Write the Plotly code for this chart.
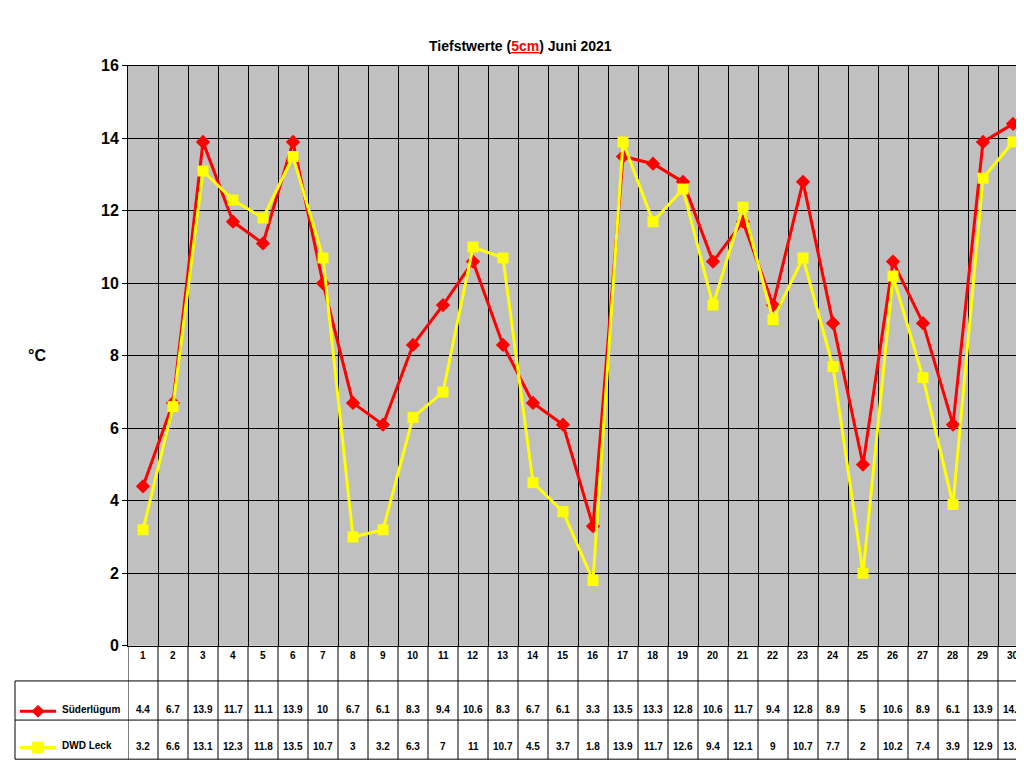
import plotly.graph_objects as go

days = list(range(1, 31))
suederluegum = [4.4, 6.7, 13.9, 11.7, 11.1, 13.9, 10, 6.7, 6.1, 8.3, 9.4, 10.6, 8.3, 6.7, 6.1,
                3.3, 13.5, 13.3, 12.8, 10.6, 11.7, 9.4, 12.8, 8.9, 5, 10.6, 8.9, 6.1, 13.9, 14.4]
dwd_leck = [3.2, 6.6, 13.1, 12.3, 11.8, 13.5, 10.7, 3, 3.2, 6.3, 7, 11, 10.7, 4.5, 3.7,
            1.8, 13.9, 11.7, 12.6, 9.4, 12.1, 9, 10.7, 7.7, 2, 10.2, 7.4, 3.9, 12.9, 13.9]
series_names = ["Süderlügum", "DWD Leck"]

W, H = 1024, 768
def py(p):  # pixel y -> paper
    return 1 - p / H
def px(p):
    return p / W

fig = go.Figure()
fig.add_trace(go.Scatter(x=days, y=suederluegum, mode="lines+markers", name=series_names[0],
                         line=dict(color="#FF0000", width=3),
                         marker=dict(symbol="diamond", size=11, color="#FF0000")))
fig.add_trace(go.Scatter(x=days, y=dwd_leck, mode="lines+markers", name=series_names[1],
                         line=dict(color="#FFFF00", width=3),
                         marker=dict(symbol="square", size=11, color="#FFFF00")))

shapes = []
ann = []
font = dict(family="Liberation Sans, Arial", size=10, color="black")
# table grid
rows = [644, 680, 720, 760]
for r in rows[1:]:
    shapes.append(dict(type="line", xref="paper", yref="paper", x0=px(7), x1=px(1020),
                       y0=py(r), y1=py(r), line=dict(color="black", width=1)))
for b in range(31):
    shapes.append(dict(type="line", xref="x", yref="paper", x0=b + 0.5, x1=b + 0.5,
                       y0=py(760), y1=py(644), line=dict(color="black", width=1)))
shapes.append(dict(type="line", xref="paper", yref="paper", x0=px(7), x1=px(7),
                   y0=py(760), y1=py(680), line=dict(color="black", width=1)))

for d in days:
    ann.append(dict(x=d, y=py(662), xref="x", yref="paper", text="<b>%d</b>" % d,
                    showarrow=False, font=font))
    ann.append(dict(x=d, y=py(717), xref="x", yref="paper", text="<b>%g</b>" % suederluegum[d - 1],
                    showarrow=False, font=font))
    ann.append(dict(x=d, y=py(755), xref="x", yref="paper", text="<b>%g</b>" % dwd_leck[d - 1],
                    showarrow=False, font=font))

# legend keys in table
def diamond(cx, cy, r):
    return "M %f %f L %f %f L %f %f L %f %f Z" % (px(cx), py(cy - r), px(cx + r), py(cy),
                                                  px(cx), py(cy + r), px(cx - r), py(cy))
def square(cx, cy, r):
    return "M %f %f L %f %f L %f %f L %f %f Z" % (px(cx - r), py(cy - r), px(cx + r), py(cy - r),
                                                  px(cx + r), py(cy + r), px(cx - r), py(cy + r))
for name, yy, color, path in [(series_names[0], 711, "#FF0000", diamond(30, 711, 6)),
                              (series_names[1], 748, "#FFFF00", square(30, 748, 5.5))]:
    shapes.append(dict(type="line", xref="paper", yref="paper", x0=px(12), x1=px(48),
                       y0=py(yy), y1=py(yy), line=dict(color=color, width=3)))
    shapes.append(dict(type="path", xref="paper", yref="paper", path=path,
                       fillcolor=color, line=dict(color=color, width=1)))
    ann.append(dict(x=px(52), y=py(yy + 6), xref="paper", yref="paper", text="<b>%s</b>" % name,
                    xanchor="left", showarrow=False, font=font))

ann.append(dict(x=px(18), y=py(347), xref="paper", yref="paper", text="<b>°C</b>",
                showarrow=False, font=dict(family="Liberation Sans, Arial", size=16, color="black")))
ann.append(dict(x=0.5, y=py(20), xref="paper", yref="paper",
                text="<b>Tiefstwerte (<span style='color:red'><u>5cm</u></span>) Juni 2021</b>",
                showarrow=False, font=dict(family="Liberation Sans, Arial", size=14, color="black")))

fig.update_layout(
    width=W, height=H, margin=dict(l=0, r=0, t=0, b=0),
    paper_bgcolor="white", plot_bgcolor="#C0C0C0", showlegend=False,
    xaxis=dict(domain=[px(120), px(1020)], range=[0.5, 30.5], tickvals=[b + 0.5 for b in range(31)],
               showticklabels=False, showgrid=True, gridcolor="black", gridwidth=1, zeroline=False,
               showline=True, linecolor="black", mirror=True, ticks=""),
    yaxis=dict(domain=[py(644), py(51)], range=[0, 16], dtick=2, showgrid=True, gridcolor="black",
               zeroline=False, showline=True, linecolor="black", mirror=True, ticks="outside",
               ticklen=5, tickcolor="black",
               tickfont=dict(family="Liberation Sans, Arial", size=16, color="black"),
               tickprefix="<b>", ticksuffix="</b>"),
    shapes=shapes, annotations=ann,
)
fig.write_html("out.html")
